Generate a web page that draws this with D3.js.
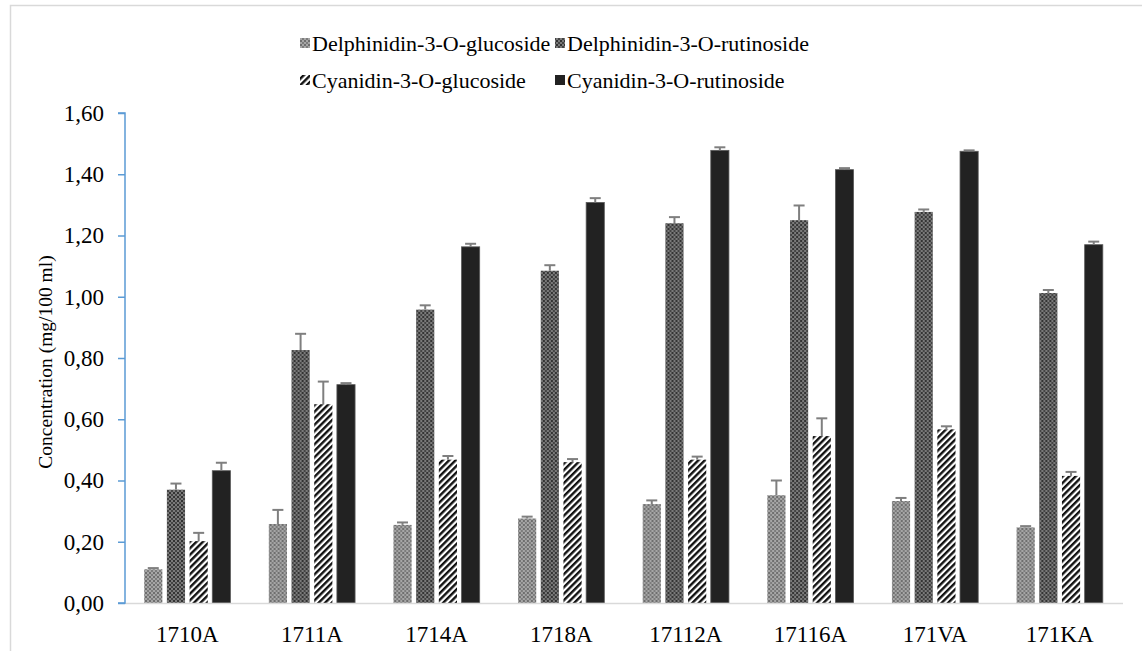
<!DOCTYPE html>
<html>
<head>
<meta charset="utf-8">
<script src="https://cdn.jsdelivr.net/npm/d3@7"></script>
<style>
  html, body { margin: 0; padding: 0; background: #fff; }
  svg { display: block; }
</style>
</head>
<body>
<svg id="chart" width="1142" height="651"></svg>
<script>
// Samples on the x axis
const categories = ["1710A", "1711A", "1714A", "1718A", "17112A", "17116A", "171VA", "171KA"];

// Anthocyanin series (mg/100 ml) and their standard deviations
const seriesNames = [
  "Delphinidin-3-O-glucoside",
  "Delphinidin-3-O-rutinoside",
  "Cyanidin-3-O-glucoside",
  "Cyanidin-3-O-rutinoside"
];
const delphGlucoside    = [0.110, 0.258, 0.255, 0.276, 0.323, 0.352, 0.333, 0.247];
const delphGlucosideErr = [0.004, 0.046, 0.008, 0.006, 0.012, 0.048, 0.010, 0.004];
const delphRutinoside    = [0.370, 0.826, 0.958, 1.085, 1.240, 1.250, 1.277, 1.012];
const delphRutinosideErr = [0.020, 0.053, 0.014, 0.018, 0.020, 0.048, 0.008, 0.010];
const cyanGlucoside    = [0.202, 0.649, 0.468, 0.460, 0.468, 0.545, 0.567, 0.415];
const cyanGlucosideErr = [0.027, 0.074, 0.012, 0.010, 0.010, 0.058, 0.010, 0.013];
const cyanRutinoside    = [0.432, 0.713, 1.163, 1.308, 1.478, 1.415, 1.475, 1.170];
const cyanRutinosideErr = [0.026, 0.005, 0.010, 0.014, 0.010, 0.005, 0.003, 0.010];

const yTicks = [0, 0.2, 0.4, 0.6, 0.8, 1.0, 1.2, 1.4, 1.6];

const seriesValues = [delphGlucoside, delphRutinoside, cyanGlucoside, cyanRutinoside];
const seriesErrors = [delphGlucosideErr, delphRutinosideErr, cyanGlucosideErr, cyanRutinosideErr];
const fills = ["url(#dotLight)", "url(#dotDark)", "url(#hatch)", "#222222"];

const FONT = "'Liberation Serif', 'Times New Roman', serif";

const svg = d3.select("#chart").style("font-family", FONT);

// ---- fill patterns ----
const defs = svg.append("defs");

const pLight = defs.append("pattern").attr("id", "dotLight")
  .attr("patternUnits", "userSpaceOnUse").attr("width", 4).attr("height", 4);
pLight.append("rect").attr("width", 4).attr("height", 4).attr("fill", "#a6a6a6");
pLight.append("rect").attr("x", 0).attr("y", 0).attr("width", 2).attr("height", 2).attr("fill", "#6e6e6e");
pLight.append("rect").attr("x", 2).attr("y", 2).attr("width", 2).attr("height", 2).attr("fill", "#7c7c7c");

const pDark = defs.append("pattern").attr("id", "dotDark")
  .attr("patternUnits", "userSpaceOnUse").attr("width", 4).attr("height", 4);
pDark.append("rect").attr("width", 4).attr("height", 4).attr("fill", "#7a7a7a");
pDark.append("rect").attr("x", 0).attr("y", 0).attr("width", 2).attr("height", 2).attr("fill", "#333333");
pDark.append("rect").attr("x", 2).attr("y", 2).attr("width", 2).attr("height", 2).attr("fill", "#444444");

const pHatch = defs.append("pattern").attr("id", "hatch")
  .attr("patternUnits", "userSpaceOnUse").attr("width", 4.6).attr("height", 4.6)
  .attr("patternTransform", "rotate(45)");
pHatch.append("rect").attr("width", 4.6).attr("height", 4.6).attr("fill", "#ffffff");
pHatch.append("rect").attr("x", 0).attr("width", 2.4).attr("height", 4.6).attr("fill", "#111111");

// ---- outer frame ----
svg.append("path")
  .attr("d", "M10.5,660 V5.5 H1150")
  .attr("fill", "none").attr("stroke", "#d9d9d9").attr("stroke-width", 1.5);

// ---- scales ----
const plotLeft = 125, plotRight = 1122, plotTop = 113, plotBottom = 603;

const x0 = d3.scaleBand().domain(categories).range([plotLeft, plotRight]).padding(0);
const groupHalf = 45.4;
const x1 = d3.scaleBand().domain(d3.range(4))
  .range([x0.bandwidth() / 2 - groupHalf, x0.bandwidth() / 2 + groupHalf])
  .paddingInner(0.2).paddingOuter(0.1);
const y = d3.scaleLinear().domain([0, 1.6]).range([plotBottom, plotTop]);

// ---- bars ----
const groups = svg.append("g").selectAll("g")
  .data(categories).join("g")
  .attr("transform", d => `translate(${x0(d)},0)`);

groups.each(function (cat, ci) {
  const g = d3.select(this);
  seriesValues.forEach((vals, si) => {
    const v = vals[ci];
    g.append("rect")
      .attr("x", x1(si)).attr("y", y(v))
      .attr("width", x1.bandwidth()).attr("height", y(0) - y(v))
      .attr("fill", fills[si])
      .attr("stroke", si === 3 ? "#5a5a5a" : "none")
      .attr("stroke-width", si === 3 ? 0.8 : 0);
  });
});

// ---- error bars (positive side only) ----
groups.each(function (cat, ci) {
  const g = d3.select(this);
  seriesValues.forEach((vals, si) => {
    const v = vals[ci], e = seriesErrors[si][ci];
    const cx = x1(si) + x1.bandwidth() / 2;
    g.append("line")
      .attr("x1", cx).attr("x2", cx)
      .attr("y1", y(v)).attr("y2", y(v + e))
      .attr("stroke", "#7f7f7f").attr("stroke-width", 2);
    g.append("line")
      .attr("x1", cx - 5.5).attr("x2", cx + 5.5)
      .attr("y1", y(v + e)).attr("y2", y(v + e))
      .attr("stroke", "#7f7f7f").attr("stroke-width", 2);
  });
});

// ---- x axis (baseline + labels) ----
svg.append("line")
  .attr("x1", plotLeft).attr("x2", plotRight + 1)
  .attr("y1", y(0) + 0.5).attr("y2", y(0) + 0.5)
  .attr("stroke", "#d9d9d9").attr("stroke-width", 1.5);

svg.append("g").selectAll("text")
  .data(categories).join("text")
  .attr("x", d => x0(d) + x0.bandwidth() / 2)
  .attr("y", 642)
  .attr("text-anchor", "middle")
  .style("font-family", FONT)
  .style("font-size", "23px")
  .attr("fill", "#000")
  .text(d => d);

// ---- y axis ----
const yAxis = d3.axisLeft(y)
  .tickValues(yTicks)
  .tickSize(7)
  .tickPadding(14)
  .tickFormat(d => d3.format(".2f")(d).replace(".", ","));

const yg = svg.append("g")
  .attr("transform", `translate(${plotLeft},0)`)
  .call(yAxis);
yg.attr("font-family", null).attr("font-size", null);
yg.select(".domain").attr("stroke", "#5b9bd5").attr("stroke-width", 1.5)
  .attr("d", `M-7,${plotTop}H0V${plotBottom}H-7`);
yg.selectAll(".tick line").attr("stroke", "#5b9bd5").attr("stroke-width", 1.5);
yg.selectAll(".tick text")
  .style("font-family", FONT)
  .style("font-size", "23px")
  .attr("fill", "#000");

svg.append("text")
  .attr("transform", `translate(52,${(plotTop + plotBottom) / 2 + 4}) rotate(-90)`)
  .attr("text-anchor", "middle")
  .style("font-family", FONT)
  .style("font-size", "19.5px")
  .attr("fill", "#000")
  .text("Concentration (mg/100 ml)");

// ---- legend ----
const legendPos = [
  { x: 300, y: 43 },
  { x: 555, y: 43 },
  { x: 300, y: 80 },
  { x: 555, y: 80 }
];
const legend = svg.append("g");
seriesNames.forEach((name, i) => {
  const p = legendPos[i];
  legend.append("rect")
    .attr("x", p.x).attr("y", p.y - 5)
    .attr("width", 10).attr("height", 10)
    .attr("fill", fills[i]);
  legend.append("text")
    .attr("x", p.x + 12).attr("y", p.y + 7.5)
    .style("font-family", FONT)
    .style("font-size", "22px")
    .attr("fill", "#000")
    .text(name);
});
</script>
</body>
</html>
